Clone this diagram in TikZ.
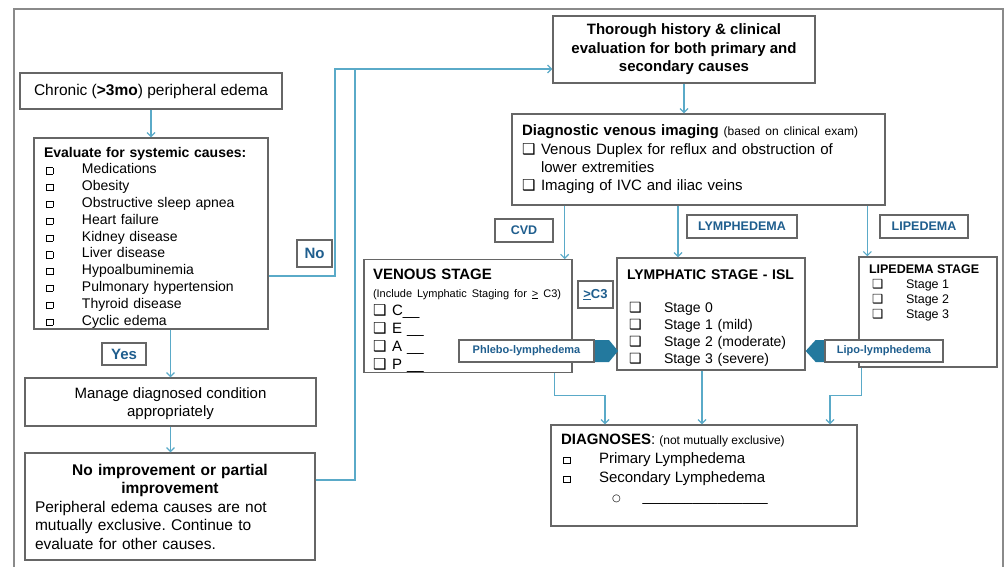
\documentclass[tikz,border=0pt]{standalone}
\usepackage{fontspec}
\setmainfont{Liberation Sans}
\newfontfamily\symfont{DejaVu Sans}
\usepackage{tikz}
\usetikzlibrary{positioning,arrows.meta,calc}
\definecolor{boxgray}{HTML}{666666}
\definecolor{framegray}{HTML}{8A8A8A}
\definecolor{linkblue}{HTML}{5AAAC8}
\definecolor{tagblue}{HTML}{1F5E8E}
\definecolor{tipblue}{HTML}{23799E}
\newcommand{\sqbox}{\raisebox{0.3pt}{\fboxsep=0pt\fboxrule=0.7pt\fbox{\rule{0pt}{5.5pt}\rule{6pt}{0pt}}}}
\newcommand{\shbox}{{\symfont ❑}}
\newcommand{\sqitem}{\hspace*{2pt}\makebox[36pt][l]{\sqbox}}
\frenchspacing

\begin{document}
\begin{tikzpicture}[x=1pt, y=-1pt,
    box/.style={draw=boxgray, line width=1.3pt, fill=white, inner sep=0pt},
    tag/.style={draw=boxgray, line width=1.2pt, fill=white, inner sep=0pt,
                text=tagblue, font=\fontsize{12.5}{14}\selectfont\bfseries},
    conn/.style={draw=linkblue, line width=1.2pt, -{Straight Barb[length=4pt,width=8pt]}},
    link/.style={draw=linkblue, line width=1.2pt},
    frame/.style={draw=framegray, line width=1.5pt},
]
\useasboundingbox (0,0) rectangle (1005,567);
\draw[frame] (14,567) -- (14,9) -- (1003,9) -- (1003,567);

% left column
\node[box, minimum width=262pt, minimum height=36pt, font=\fontsize{15.5}{18}\selectfont] (chronic) at (151,91)
    {Chronic (\textbf{>3mo}) peripheral edema};
\node[box, minimum width=234pt, minimum height=191pt, text width=214pt, align=left,
      font=\fontsize{14}{16.8}\selectfont] (evaluate) at (151,233.5)
    {\rule{0pt}{18pt}\textbf{Evaluate for systemic causes:}\\
     \sqitem Medications\\
     \sqitem Obesity\\
     \sqitem Obstructive sleep apnea\\
     \sqitem Heart failure\\
     \sqitem Kidney disease\\
     \sqitem Liver disease\\
     \sqitem Hypoalbuminemia\\
     \sqitem Pulmonary hypertension\\
     \sqitem Thyroid disease\\
     \sqitem Cyclic edema};
\node[box, minimum width=291pt, minimum height=48pt, align=center, font=\fontsize{15}{18.5}\selectfont] (manage) at (170.5,402)
    {\rule{0pt}{14pt}Manage diagnosed condition\\appropriately};
\node[box, minimum width=290pt, minimum height=107pt, text width=270pt, align=left,
      font=\fontsize{15.5}{18.5}\selectfont] (noimp) at (170,506.5)
    {\makebox[270pt]{\bfseries No improvement or partial}\\
     \makebox[270pt]{\bfseries improvement}\\
     Peripheral edema causes are not\\
     mutually exclusive. Continue to\\
     evaluate for other causes.};

% right part
\node[box, minimum width=262pt, minimum height=67pt, align=center, font=\fontsize{15}{18.5}\selectfont\bfseries] (thorough) at (684,49.5)
    {Thorough history \& clinical\\evaluation for both primary and\\secondary causes};
\node[box, minimum width=373pt, minimum height=91pt, text width=353pt, align=left,
      font=\fontsize{15}{18.3}\selectfont] (imaging) at (698.5,159.5)
    {\textbf{Diagnostic venous imaging} {\fontsize{12}{14}\selectfont (based on clinical exam)}\\
     \makebox[19pt][l]{\shbox}Venous Duplex for reflux and obstruction of\\
     \hspace*{19pt}lower extremities\\
     \makebox[19pt][l]{\shbox}Imaging of IVC and iliac veins};
\node[box, minimum width=208pt, minimum height=112pt, text width=190pt, align=left,
      font=\fontsize{15}{18}\selectfont] (venous) at (468,316)
    {\rule{0pt}{19.5pt}{\bfseries VENOUS STAGE}\\
     {\fontsize{11}{13}\selectfont (Include Lymphatic Staging for \underline{>} C3)}\\
     \makebox[19pt][l]{\shbox}C\_\_\\
     \makebox[19pt][l]{\shbox}E \_\_\\
     \makebox[19pt][l]{\shbox}A \_\_\\
     \makebox[19pt][l]{\shbox}P \_\_};
\node[box, minimum width=188pt, minimum height=112pt, text width=168pt, align=left,
      font=\fontsize{14}{16.8}\selectfont] (lymph) at (711,314)
    {\rule{0pt}{17pt}{\bfseries LYMPHATIC STAGE - ISL}\\[16.8pt]
     \hspace*{2pt}\makebox[35pt][l]{\shbox}Stage 0\\
     \hspace*{2pt}\makebox[35pt][l]{\shbox}Stage 1 (mild)\\
     \hspace*{2pt}\makebox[35pt][l]{\shbox}Stage 2 (moderate)\\
     \hspace*{2pt}\makebox[35pt][l]{\shbox}Stage 3 (severe)};
\node[box, minimum width=138pt, minimum height=110pt, inner ysep=8pt,
      font=\fontsize{12.5}{15}\selectfont] (lipo) at (928,312)
    {\parbox[c][94pt][t]{118pt}{\textbf{LIPEDEMA STAGE}\\
     \hspace*{3pt}\makebox[34pt][l]{\shbox}Stage 1\\
     \hspace*{3pt}\makebox[34pt][l]{\shbox}Stage 2\\
     \hspace*{3pt}\makebox[34pt][l]{\shbox}Stage 3}};
\node[box, minimum width=306pt, minimum height=101pt, inner ysep=9pt,
      font=\fontsize{15}{19}\selectfont] (diag) at (704,475.5)
    {\parbox[c][83pt][t]{286pt}{\textbf{DIAGNOSES}: {\fontsize{12}{14}\selectfont (not mutually exclusive)}\\
     \sqitem Primary Lymphedema\\
     \sqitem Secondary Lymphedema\\
     \hspace*{51pt}{\symfont\fontsize{10}{10}\selectfont ○}\hspace*{22pt}\_\_\_\_\_\_\_\_\_\_\_\_\_\_\_}};

% labels
\node[tag, minimum width=35pt, minimum height=27pt, font=\fontsize{15}{17}\selectfont\bfseries] (no) at (314.5,253.5) {No};
\node[tag, minimum width=44pt, minimum height=22pt, font=\fontsize{15}{17}\selectfont\bfseries] (yes) at (124,354) {Yes};
\node[tag, minimum width=58pt, minimum height=23pt] (cvd) at (524,230.5) {CVD};
\node[tag, minimum width=110pt, minimum height=23pt] (lymphedema) at (742,226.5) {LYMPHEDEMA};
\node[tag, minimum width=88pt, minimum height=23pt] (lipedema) at (924,226.5) {LIPEDEMA};
\node[tag, minimum width=35pt, minimum height=27pt, font=\fontsize{13}{15}\selectfont\bfseries] (gec3) at (595.5,294.5) {\underline{>}C3};

% callouts
\fill[tipblue] (609,340) -- ++(-15,0) -- ++(0,22) -- ++(15,0) -- ++(9,-11) -- cycle;
\node[tag, minimum width=135pt, minimum height=22pt, font=\fontsize{11}{13}\selectfont\bfseries] (phlebo) at (526.5,351) {Phlebo-lymphedema};
\fill[tipblue] (lymph.east |- 0,351) -- ++(10,-11) -- ++(10,0) -- ++(0,22) -- ++(-10,0) -- cycle;
\node[tag, minimum width=118pt, minimum height=22pt, font=\fontsize{11}{13}\selectfont\bfseries] (lipolym) at (884,351) {Lipo-lymphedema};

% connectors
\coordinate (nojoin) at (335,69);
\coordinate (impjoin) at (355,69);
\coordinate (cvdin) at ([xshift=-8pt]venous.north east);
\coordinate (lymin) at ([xshift=-33pt]lymph.north);
\coordinate (lipin) at ([xshift=9pt]lipo.north west);
\coordinate (vout) at ([xshift=-18pt]venous.south east);
\coordinate (lout) at ([xshift=-9pt]lymph.south);
\coordinate (pout) at ([xshift=3pt]lipo.south west);

\draw[conn] (chronic.south) -- (evaluate.north);
\draw[conn] (evaluate.south -| manage.north) -- (manage.north);
\draw[conn] (manage.south) -- (manage.south |- noimp.north);
\draw[conn] ([yshift=-42.5pt]evaluate.east) -| (nojoin) -- (nojoin -| thorough.west);
\draw[link] ([yshift=26.5pt]noimp.east) -| (impjoin);
\draw[conn] (thorough.south) -- (thorough.south |- imaging.north);
\draw[conn] (imaging.south -| cvdin) -- (cvdin);
\draw[conn] (imaging.south -| lymin) -- (lymin);
\draw[conn] (imaging.south -| lipin) -- (lipin);
\draw[conn] (vout) -- ++(0,23) -| ([xshift=-99pt]diag.north);
\draw[conn] (lout) -- (lout |- diag.north);
\draw[conn] (pout) -- ++(0,28) -| ([xshift=126pt]diag.north);
\end{tikzpicture}
\end{document}
